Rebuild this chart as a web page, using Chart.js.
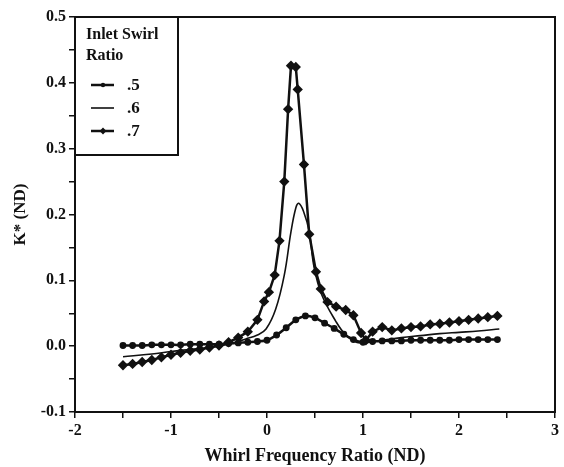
<!DOCTYPE html>
<html>
<head>
<meta charset="utf-8">
<script src="https://cdn.jsdelivr.net/npm/chart.js@4"></script>
<style>
  html, body { margin: 0; padding: 0; background: #fff; }
  #wrap { width: 564px; height: 467px; }
</style>
</head>
<body>
<div id="wrap"><canvas id="chart" width="564" height="467"></canvas></div>
<script>
// swirl ratio .5 (small dots)
const x5 = [-1.5,-1.4,-1.3,-1.2,-1.1,-1.0,-0.9,-0.8,-0.7,-0.6,-0.5,-0.4,-0.3,-0.2,-0.1,0.0,0.1,0.2,0.3,0.4,0.5,0.6,0.7,0.8,0.9,1.0,1.1,1.2,1.3,1.4,1.5,1.6,1.7,1.8,1.9,2.0,2.1,2.2,2.3,2.4];
const y5 = [0.001,0.001,0.001,0.002,0.002,0.002,0.002,0.003,0.003,0.003,0.003,0.004,0.005,0.006,0.007,0.009,0.017,0.028,0.040,0.046,0.043,0.035,0.027,0.018,0.010,0.006,0.007,0.008,0.008,0.008,0.009,0.009,0.009,0.009,0.009,0.010,0.010,0.010,0.010,0.010];

// swirl ratio .6 (thin line, no markers)
const x6 = [-1.5,-1.2,-1.0,-0.8,-0.6,-0.4,-0.22,-0.1,-0.01,0.09,0.18,0.25,0.3,0.33,0.38,0.44,0.49,0.57,0.72,0.82,0.93,1.0,1.1,1.2,1.4,1.6,1.8,2.0,2.2,2.42];
const y6 = [-0.016,-0.012,-0.008,-0.005,-0.002,0.003,0.011,0.017,0.026,0.056,0.108,0.174,0.21,0.217,0.205,0.174,0.12,0.078,0.037,0.017,0.006,0.005,0.007,0.009,0.013,0.016,0.019,0.021,0.023,0.026];

// swirl ratio .7 (diamonds)
const x7 = [-1.5,-1.4,-1.3,-1.2,-1.1,-1.0,-0.9,-0.8,-0.7,-0.6,-0.5,-0.4,-0.3,-0.2,-0.1,-0.03,0.02,0.08,0.13,0.18,0.22,0.25,0.3,0.32,0.385,0.44,0.51,0.56,0.63,0.72,0.82,0.9,0.98,1.03,1.1,1.2,1.3,1.4,1.5,1.6,1.7,1.8,1.9,2.0,2.1,2.2,2.3,2.4];
const y7 = [-0.029,-0.027,-0.024,-0.021,-0.017,-0.013,-0.010,-0.007,-0.005,-0.002,0.001,0.006,0.013,0.022,0.040,0.068,0.082,0.108,0.16,0.25,0.36,0.426,0.424,0.39,0.276,0.17,0.113,0.087,0.067,0.06,0.055,0.047,0.02,0.009,0.022,0.029,0.024,0.027,0.029,0.030,0.033,0.034,0.036,0.038,0.040,0.042,0.044,0.046];

const legendTitle = ['Inlet Swirl', 'Ratio'];
const seriesLabels = ['.5', '.6', '.7'];

const INK = '#111';
const serif = '"Liberation Serif", "DejaVu Serif", serif';

const pts = (xs, ys) => xs.map((x, i) => ({ x, y: ys[i] }));

// box around the plot area
const framePlugin = {
    id: 'frame',
    afterDraw(chart) {
        const { ctx, chartArea: a } = chart;
        ctx.save();
        ctx.strokeStyle = INK;
        ctx.lineWidth = 2;
        ctx.strokeRect(a.left, a.top, a.right - a.left, a.bottom - a.top);
        ctx.restore();
    }
};

// legend box in the top-left corner
const legendPlugin = {
    id: 'boxLegend',
    afterDraw(chart) {
        const { ctx, chartArea: a } = chart;
        const left = a.left, top = a.top;
        ctx.save();
        ctx.fillStyle = '#fff';
        ctx.fillRect(left, top, 103, 138);
        ctx.strokeStyle = INK;
        ctx.lineWidth = 2;
        ctx.strokeRect(left, top, 103, 138);
        ctx.fillStyle = INK;
        ctx.font = 'bold 16px ' + serif;
        ctx.textBaseline = 'middle';
        ctx.fillText(legendTitle[0], left + 11, top + 18);
        ctx.fillText(legendTitle[1], left + 11, top + 39);
        chart.data.datasets.forEach((ds, i) => {
            const y = top + 68 + i * 23;
            ctx.strokeStyle = INK;
            ctx.lineWidth = ds.borderWidth;
            ctx.beginPath();
            ctx.moveTo(left + 16, y);
            ctx.lineTo(left + 39, y);
            ctx.stroke();
            if (ds.pointRadius > 0) {
                ctx.beginPath();
                if (ds.pointStyle === 'rectRot') {
                    const r = ds.pointRadius;
                    ctx.moveTo(left + 28, y - r);
                    ctx.lineTo(left + 28 + r, y);
                    ctx.lineTo(left + 28, y + r);
                    ctx.lineTo(left + 28 - r, y);
                    ctx.closePath();
                } else {
                    ctx.arc(left + 28, y, ds.pointRadius, 0, Math.PI * 2);
                }
                ctx.fill();
            }
            ctx.font = 'bold 17px ' + serif;
            ctx.fillText(ds.label, left + 52, y + 1);
        });
        ctx.restore();
    }
};

const near = (v, step) => Math.abs(v / step - Math.round(v / step)) < 1e-6;

new Chart(document.getElementById('chart'), {
    type: 'scatter',
    data: {
        datasets: [
            {
                label: seriesLabels[0],
                data: pts(x5, y5),
                showLine: true,
                borderColor: INK,
                backgroundColor: INK,
                borderWidth: 2.5,
                pointRadius: 2.2,
                pointStyle: 'circle',
                tension: 0.3
            },
            {
                label: seriesLabels[1],
                data: pts(x6, y6),
                showLine: true,
                borderColor: INK,
                backgroundColor: INK,
                borderWidth: 1.6,
                pointRadius: 0,
                tension: 0.4
            },
            {
                label: seriesLabels[2],
                data: pts(x7, y7),
                showLine: true,
                borderColor: INK,
                backgroundColor: INK,
                borderWidth: 2.5,
                pointRadius: 3.4,
                pointStyle: 'rectRot',
                tension: 0
            }
        ]
    },
    options: {
        responsive: false,
        animation: false,
        layout: { padding: { top: 17, right: 9, left: 10, bottom: 0 } },
        plugins: {
            legend: { display: false },
            tooltip: { enabled: false }
        },
        scales: {
            x: {
                type: 'linear',
                min: -2,
                max: 3,
                afterFit: s => { s.height = 55; },
                border: { display: true, color: INK, width: 2 },
                grid: { drawOnChartArea: false, color: INK, tickLength: 6, lineWidth: 1.5 },
                ticks: {
                    stepSize: 0.5,
                    autoSkip: false,
                    maxRotation: 0,
                    padding: 3,
                    color: INK,
                    font: { family: serif, size: 16, weight: 'bold' },
                    callback: v => near(v, 1) ? String(Math.round(v)) : ''
                },
                title: {
                    display: true,
                    text: 'Whirl Frequency Ratio (ND)',
                    color: INK,
                    padding: { top: 0, bottom: 0 },
                    font: { family: serif, size: 18, weight: 'bold' }
                }
            },
            y: {
                min: -0.1,
                max: 0.5,
                afterFit: s => { s.width = 65; },
                border: { display: true, color: INK, width: 2 },
                grid: { drawOnChartArea: false, color: INK, tickLength: 6, lineWidth: 1.5 },
                ticks: {
                    stepSize: 0.05,
                    autoSkip: false,
                    padding: 3,
                    color: INK,
                    font: { family: serif, size: 16, weight: 'bold' },
                    callback: v => near(v, 0.1) ? (Math.round(v * 10) / 10).toFixed(1) : ''
                },
                title: {
                    display: true,
                    text: 'K* (ND)',
                    color: INK,
                    padding: { top: 0, bottom: 2 },
                    font: { family: serif, size: 17, weight: 'bold' }
                }
            }
        }
    },
    plugins: [framePlugin, legendPlugin]
});
</script>
</body>
</html>
